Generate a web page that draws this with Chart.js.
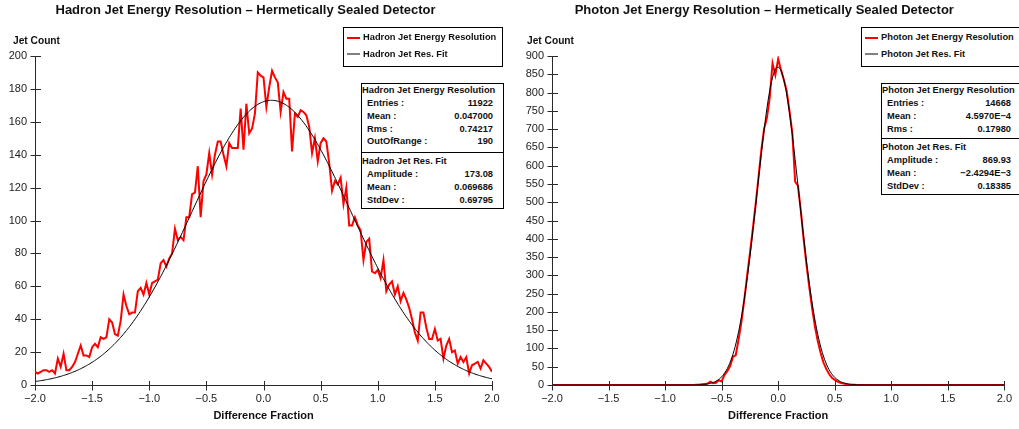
<!DOCTYPE html>
<html>
<head>
<meta charset="utf-8">
<script src="https://cdn.jsdelivr.net/npm/chart.js@4.4.1/dist/chart.umd.min.js"></script>
<style>
  html, body { margin: 0; padding: 0; background: #fff; }
  body { width: 1019px; height: 429px; position: relative; overflow: hidden;
         font-family: "Liberation Sans", Arial, Helvetica, sans-serif; color: #111; }
  canvas { position: absolute; top: 0; }
  .title { position: absolute; top: 2px; font-weight: bold; font-size: 13px; line-height: 16px;
           white-space: nowrap; transform: translateX(-50%); }
  .ylab { position: absolute; top: 33px; font-weight: bold; font-size: 10.2px; line-height: 15px; white-space: nowrap; }
  .legend { position: absolute; top: 27px; height: 40px; border: 1px solid #000; background: #fff;
            box-sizing: border-box; font-weight: bold; font-size: 9.3px; }
  .legend .item { position: absolute; left: 0; height: 13px; line-height: 13px; white-space: nowrap; }
  .legend .swatch { position: absolute; left: 3px; top: 5.5px; width: 13px; height: 2px; }
  .legend .txt { position: absolute; left: 19px; top: 0; }
  .stats { position: absolute; top: 83px; border: 1px solid #000; background: #fff;
           font-weight: bold; font-size: 9.3px; box-sizing: border-box; }
  .stats .sec + .sec { border-top: 1px solid #000; padding-top: 2px; padding-bottom: 1px; }
  .stats .hd { height: 13px; line-height: 13px; padding-left: 0; white-space: nowrap; }
  .stats .row { height: 12.8px; line-height: 12.8px; display: flex; justify-content: space-between;
                padding: 0 10px 0 5px; white-space: nowrap; }
</style>
</head>
<body>
<canvas id="hadron" width="510" height="429" style="left:0px"></canvas>
<canvas id="photon" width="509" height="429" style="left:510px"></canvas>

<script>
// Histogram bins: centres run from -2.0 to 2.0 in steps of 0.025
const BIN_START = -2.0;
const BIN_STEP = 0.025;

// Hadron jets: entries per bin
const hadronCounts = [
  8, 7, 8, 9, 9, 8, 9, 7, 16, 11,
  19, 9, 9, 11, 14, 19, 24, 18, 18, 17,
  23, 25, 23, 29, 28, 29, 40, 38, 31, 30,
  39, 55, 48, 43, 44, 44, 57, 59, 55, 62,
  55, 62, 63, 64, 74, 76, 72, 77, 80, 95,
  88, 90, 88, 102, 102, 116, 117, 133, 102, 124,
  128, 141, 128, 140, 148, 148, 140, 133, 147, 144,
  144, 144, 168, 143, 171, 153, 156, 165, 190, 188,
  187, 169, 181, 191, 187, 184, 166, 178, 174, 174,
  142, 165, 163, 167, 166, 164, 157, 141, 150, 136,
  147, 150, 148, 135, 118, 124, 122, 126, 110, 120,
  97, 97, 102, 97, 94, 76, 87, 89, 69, 68,
  70, 65, 76, 57, 61, 63, 55, 60, 51, 56,
  52, 47, 40, 32, 27, 44, 44, 35, 28, 28,
  34, 27, 28, 16, 24, 28, 20, 21, 13, 17,
  14, 17, 7, 12, 13, 14, 10, 15, 13, 11,
  8
];

// Photon jets: entries per bin
const photonCounts = [
  0, 0, 0, 0, 0, 0, 0, 0, 0, 0,
  0, 0, 0, 0, 0, 0, 0, 0, 0, 0,
  0, 0, 0, 0, 0, 0, 0, 0, 0, 0,
  0, 0, 0, 0, 0, 0, 0, 0, 0, 0,
  0, 0, 0, 0, 0, 0, 0, 0, 0, 0,
  0, 1, 1, 2, 3, 4, 9, 5, 6, 13,
  10, 28, 38, 52, 77, 82, 125, 172, 232, 298,
  360, 425, 492, 565, 640, 700, 730, 785, 880, 848,
  892, 862, 835, 805, 750, 690, 556, 545, 478, 400,
  330, 268, 210, 160, 120, 88, 62, 44, 30, 20,
  14, 9, 6, 4, 3, 1, 1, 1, 0, 0,
  0, 0, 0, 0, 0, 0, 0, 0, 0, 0,
  0, 0, 0, 0, 0, 0, 0, 0, 0, 0,
  0, 0, 0, 0, 0, 0, 0, 0, 0, 0,
  0, 0, 0, 0, 0, 0, 0, 0, 0, 0,
  0, 0, 0, 0, 0, 0, 0, 0, 0, 0,
  0
];

// Gaussian fit parameters
const hadronFit = { amplitude: 173.08, mean: 0.069686, stdDev: 0.69795 };
const photonFit = { amplitude: 869.93, mean: -2.4294e-3, stdDev: 0.18385 };

// Statistics box contents
const hadronStats = [["Entries :", "11922"], ["Mean :", "0.047000"], ["Rms :", "0.74217"], ["OutOfRange :", "190"]];
const hadronFitStats = [["Amplitude :", "173.08"], ["Mean :", "0.069686"], ["StdDev :", "0.69795"]];
const photonStats = [["Entries :", "14668"], ["Mean :", "4.5970E\u22124"], ["Rms :", "0.17980"]];
const photonFitStats = [["Amplitude :", "869.93"], ["Mean :", "\u22122.4294E\u22123"], ["StdDev :", "0.18385"]];

// Axis ranges and tick spacing
const xRange = [-2.0, 2.0];
const xTickStep = 0.5;
const hadronYRange = [0, 200];
const hadronYStep = 20;
const photonYRange = [0, 900];
const photonYStep = 50;

const AXIS_COLOR = '#2a2a2a';
const FONT = '"Liberation Sans", Arial, Helvetica, sans-serif';

function binPoints(counts) {
  return counts.map((y, i) => ({ x: BIN_START + i * BIN_STEP, y }));
}

function gaussianPoints(p) {
  const pts = [];
  for (let k = 0; k <= 400; k++) {
    const x = xRange[0] + k * 0.01;
    const z = (x - p.mean) / p.stdDev;
    pts.push({ x, y: p.amplitude * Math.exp(-0.5 * z * z) });
  }
  return pts;
}

function fmtX(v) {
  const s = Math.abs(v).toFixed(1);
  return (v < -1e-9 ? '\u2212' : '') + s;
}

// Tick marks that straddle the axis lines
const crossTicks = {
  id: 'crossTicks',
  afterDraw(chart) {
    const { ctx, chartArea } = chart;
    const xs = chart.scales.x, ys = chart.scales.y;
    ctx.save();
    ctx.strokeStyle = AXIS_COLOR;
    ctx.lineWidth = 1;
    ctx.beginPath();
    const bottom = Math.round(chartArea.bottom) + 0.5;
    xs.ticks.forEach(t => {
      const px = Math.round(xs.getPixelForValue(t.value)) + 0.5;
      ctx.moveTo(px, bottom - 4.5);
      ctx.lineTo(px, bottom + 5);
    });
    const left = Math.round(chartArea.left) + 0.5;
    ys.ticks.forEach(t => {
      const py = Math.round(ys.getPixelForValue(t.value)) + 0.5;
      ctx.moveTo(left - 5, py);
      ctx.lineTo(left + 5.5, py);
    });
    ctx.stroke();
    ctx.restore();
  }
};

function makeChart(id, cfg) {
  return new Chart(document.getElementById(id), {
    type: 'line',
    data: {
      datasets: [
        { label: cfg.dataLabel, data: binPoints(cfg.counts), borderColor: '#ff0000', borderWidth: 2,
          pointRadius: 0, tension: 0, order: 1, legendColor: '#ff0000' },
        { label: cfg.fitLabel, data: gaussianPoints(cfg.fit), borderColor: '#000000', borderWidth: 1,
          pointRadius: 0, tension: 0, order: 0, legendColor: '#808080' }
      ]
    },
    options: {
      responsive: false,
      animation: false,
      devicePixelRatio: 1,
      layout: { padding: { top: 56, right: cfg.padRight, bottom: 0, left: 0 } },
      plugins: { legend: { display: false }, tooltip: { enabled: false }, title: { display: false } },
      scales: {
        x: {
          type: 'linear', min: xRange[0], max: xRange[1],
          afterFit(s) { s.height = 44; },
          grid: { display: false, drawTicks: false },
          border: { display: true, color: AXIS_COLOR, width: 1 },
          ticks: { stepSize: xTickStep, padding: 7, color: '#222', font: { family: FONT, size: 11 },
                   callback: v => fmtX(v), maxRotation: 0, autoSkip: false },
          title: { display: true, text: 'Difference Fraction', color: '#111',
                   font: { family: FONT, size: 11, weight: 'bold' }, padding: { top: 0, bottom: 6 } }
        },
        y: {
          min: cfg.yRange[0], max: cfg.yRange[1],
          afterFit(s) { s.width = cfg.yWidth; },
          grid: { display: false, drawTicks: false },
          border: { display: true, color: AXIS_COLOR, width: 1 },
          ticks: { stepSize: cfg.yStep, padding: 8, color: '#222', font: { family: FONT, size: 11 }, autoSkip: false }
        }
      }
    },
    plugins: [crossTicks]
  });
}

function addText(cls, text, left, extraStyle) {
  const d = document.createElement('div');
  d.className = cls;
  d.textContent = text;
  d.style.left = left + 'px';
  if (extraStyle) Object.assign(d.style, extraStyle);
  document.body.appendChild(d);
  return d;
}

function addLegend(chart, left, width) {
  const box = document.createElement('div');
  box.className = 'legend';
  box.style.left = left + 'px';
  box.style.width = width + 'px';
  chart.data.datasets.forEach((ds, i) => {
    const item = document.createElement('div');
    item.className = 'item';
    item.style.top = (3 + i * 16.6) + 'px';
    const sw = document.createElement('div');
    sw.className = 'swatch';
    sw.style.background = ds.legendColor;
    const tx = document.createElement('div');
    tx.className = 'txt';
    tx.textContent = ds.label;
    item.appendChild(sw);
    item.appendChild(tx);
    box.appendChild(item);
  });
  document.body.appendChild(box);
}

function addStats(left, width, sections, firstPadBottom) {
  const box = document.createElement('div');
  box.className = 'stats';
  box.style.left = left + 'px';
  box.style.width = width + 'px';
  sections.forEach((sec, si) => {
    const s = document.createElement('div');
    s.className = 'sec';
    if (si === 0) s.style.paddingBottom = firstPadBottom + 'px';
    const hd = document.createElement('div');
    hd.className = 'hd';
    hd.textContent = sec.title;
    s.appendChild(hd);
    sec.rows.forEach(([k, v]) => {
      const r = document.createElement('div');
      r.className = 'row';
      const a = document.createElement('span'); a.textContent = k;
      const b = document.createElement('span'); b.textContent = v;
      r.appendChild(a); r.appendChild(b);
      s.appendChild(r);
    });
    box.appendChild(s);
  });
  document.body.appendChild(box);
}

const hadronChart = makeChart('hadron', {
  counts: hadronCounts, fit: hadronFit, yRange: hadronYRange, yStep: hadronYStep,
  yWidth: 35, padRight: 18,
  dataLabel: 'Hadron Jet Energy Resolution', fitLabel: 'Hadron Jet Res. Fit'
});
const photonChart = makeChart('photon', {
  counts: photonCounts, fit: photonFit, yRange: photonYRange, yStep: photonYStep,
  yWidth: 42, padRight: 9,
  dataLabel: 'Photon Jet Energy Resolution', fitLabel: 'Photon Jet Res. Fit'
});

addText('title', 'Hadron Jet Energy Resolution \u2013 Hermetically Sealed Detector', 245.5);
addText('title', 'Photon Jet Energy Resolution \u2013 Hermetically Sealed Detector', 764.3);
addText('ylab', 'Jet Count', 13);
addText('ylab', 'Jet Count', 527);

addLegend(hadronChart, 343, 160);
addLegend(photonChart, 861, 170);

addStats(361, 143, [
  { title: 'Hadron Jet Energy Resolution', rows: hadronStats },
  { title: 'Hadron Jet Res. Fit', rows: hadronFitStats }
], 4);
addStats(881, 141, [
  { title: 'Photon Jet Energy Resolution', rows: photonStats },
  { title: 'Photon Jet Res. Fit', rows: photonFitStats }
], 3);
</script>
</body>
</html>
